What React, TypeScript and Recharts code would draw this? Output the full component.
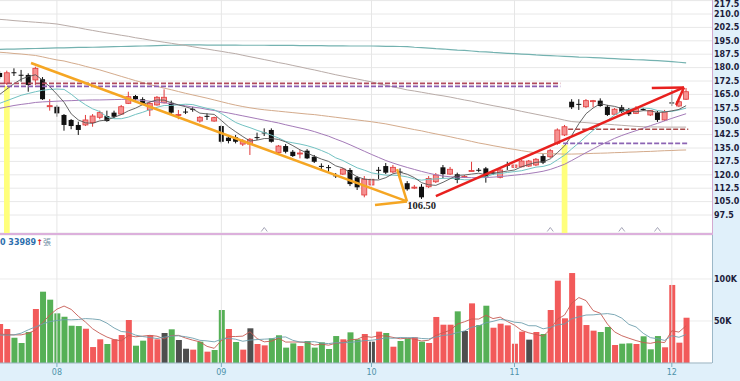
import React from 'react';
import {
  ComposedChart, Bar, Line, XAxis, YAxis, CartesianGrid,
  ReferenceLine, ReferenceArea, ReferenceDot, Cell,
} from 'recharts';

// ---------- data ----------
const opens = [177.0,171.2,177.4,176.0,175.9,173.1,173.5,158.3,158.1,153.5,150.7,147.9,147.9,149.2,152.2,152.9,154.8,154.0,160.0,164.1,162.3,156.3,159.1,160.3,160.3,153.3,155.4,156.9,150.1,153.0,150.1,147.3,140.8,141.0,137.2,137.2,141.1,143.7,145.1,132.4,136.1,132.9,131.8,133.5,130.1,125.0,124.3,119.7,120.4,122.7,118.6,108.7,114.3,122.8,124.9,121.6,121.8,115.3,112.9,113.3,113.3,116.1,124.2,120.4,120.3,118.7,122.1,122.8,123.6,121.3,118.6,125.6,124.2,124.5,124.9,125.5,130.5,130.1,137.6,142.3,160.9,159.7,158.1,161.3,161.5,158.1,153.9,157.8,156.7,154.4,156.8,153.5,154.8,150.7,160.5,158.5,162.3];
const highs = [178.1,178.3,179.6,178.7,176.8,180.5,174.7,162.3,159.1,154.0,151.2,149.7,153.5,154.0,155.9,155.9,155.9,159.1,166.5,164.7,163.4,160.9,164.1,167.8,161.5,156.3,157.2,158.1,152.9,154.4,152.5,147.9,141.3,142.3,140.0,140.6,143.6,146.0,146.0,136.7,137.2,133.9,133.9,134.4,131.1,126.4,125.5,121.0,123.8,123.8,119.3,119.3,118.2,124.4,126.6,125.5,123.6,116.5,114.3,114.8,119.3,121.0,125.5,124.4,121.2,119.9,127.3,123.8,124.4,122.7,123.2,127.3,126.0,128.3,128.3,129.4,131.6,134.4,146.0,147.9,162.3,162.3,162.4,161.9,162.8,159.1,157.4,159.1,157.4,158.5,157.4,156.3,155.7,156.3,167.5,161.9,168.6];
const lows = [173.6,170.3,175.3,172.1,166.5,170.3,161.9,155.9,152.5,144.7,145.5,142.3,147.3,146.9,151.1,149.7,151.6,153.5,159.6,161.5,159.1,152.9,158.7,160.0,154.0,151.1,154.0,155.3,149.2,150.7,149.7,137.6,137.6,137.6,136.1,131.1,139.5,141.7,138.0,132.0,132.0,130.0,129.2,128.8,126.6,122.3,121.7,118.2,119.9,113.7,111.5,107.4,113.7,117.6,120.4,121.0,118.9,111.1,112.0,106.5,112.6,115.4,118.0,119.9,115.3,118.2,121.8,121.6,115.6,119.9,118.0,122.7,123.6,124.2,124.4,124.9,126.0,129.4,136.7,141.7,156.8,156.3,157.4,157.8,158.1,152.9,153.5,154.6,152.9,154.0,155.9,152.9,149.6,150.1,158.5,157.9,161.9];
const closes = [174.7,177.1,177.2,175.8,170.3,179.6,162.3,158.7,154.4,147.9,147.3,145.1,150.7,152.9,154.8,150.1,152.5,158.1,163.7,162.3,160.0,160.0,163.4,163.4,154.8,153.7,155.2,156.7,152.2,152.8,152.0,138.5,138.9,138.5,138.9,139.9,140.9,143.5,138.5,136.1,132.9,130.5,132.2,129.2,127.3,124.8,124.1,119.5,123.2,114.8,113.0,117.5,117.5,122.6,121.2,124.2,121.6,111.9,113.1,107.4,118.0,119.9,120.4,123.1,117.1,119.1,122.4,122.6,118.9,121.1,122.7,125.4,125.5,127.7,127.7,128.7,126.8,133.5,145.1,146.9,157.8,159.5,161.5,161.5,158.5,153.5,156.7,155.3,153.9,157.2,156.6,155.9,150.7,155.3,160.3,160.9,166.5];

const ma5 = [165.0,168.0,171.0,173.5,175.0,176.0,173.0,169.3,165.1,160.6,154.1,150.7,149.1,148.8,150.2,150.7,152.2,153.7,155.8,157.3,159.3,160.8,161.9,161.8,160.3,159.1,158.1,156.8,154.5,154.1,153.8,150.4,146.9,144.1,141.4,138.9,139.4,140.3,140.3,139.8,138.4,136.3,134.0,132.2,130.4,128.8,127.5,125.0,123.8,121.3,118.9,117.6,117.2,117.1,118.4,120.6,121.4,120.3,118.4,115.6,114.4,114.1,115.8,117.8,119.7,119.9,120.4,120.9,120.0,120.8,121.5,122.1,122.7,124.5,125.8,127.0,127.3,128.9,132.4,136.2,142.0,148.6,154.2,157.4,159.8,158.9,158.3,157.1,155.6,155.3,155.9,155.8,154.9,155.1,155.8,156.6,158.7];
const ma10 = [160.0,161.5,163.0,164.5,165.5,166.5,167.3,167.8,168.0,167.8,165.1,161.9,159.2,156.9,155.4,152.4,151.4,151.4,152.3,153.8,155.0,156.5,157.8,158.8,158.8,159.2,159.5,159.3,158.2,157.2,156.4,154.3,151.8,149.3,147.7,146.4,144.9,143.6,142.2,140.6,138.7,137.9,137.2,136.3,135.1,133.6,131.9,129.5,128.0,125.9,123.9,122.6,121.1,120.4,119.8,119.8,119.5,118.8,117.7,117.0,117.5,117.7,118.0,118.1,117.7,117.2,117.2,118.3,118.9,120.3,120.7,121.3,121.8,122.3,123.3,124.3,124.7,125.8,128.4,131.0,134.5,137.9,141.5,144.9,148.0,150.5,153.5,155.6,156.5,157.5,157.4,157.1,156.0,155.4,155.5,156.3,157.3];
const ma20 = [157.2,158.0,158.8,159.4,159.9,160.5,160.8,161.0,161.2,161.4,161.5,161.7,161.8,161.9,161.9,162.0,162.1,162.2,162.3,162.0,161.6,161.2,160.8,160.3,159.8,159.2,158.6,157.9,157.4,156.6,156.0,155.3,154.6,153.8,153.0,152.2,151.4,150.6,149.8,149.0,148.0,147.1,146.2,145.3,144.2,142.9,141.6,140.0,138.5,136.8,135.0,133.2,131.4,129.7,128.0,126.6,125.3,124.1,123.0,121.9,120.9,120.0,119.3,118.9,118.7,118.5,118.4,118.4,118.5,118.7,119.0,119.4,119.8,120.2,120.7,121.3,122.0,123.0,124.4,125.9,128.0,130.2,132.4,134.5,136.6,138.5,140.4,142.0,143.4,144.7,146.1,147.5,148.8,150.2,151.6,152.9,154.2];
const ma60 = [188.6,188.3,187.9,187.6,187.2,186.8,186.0,185.1,184.3,183.7,182.7,181.8,180.7,179.7,178.7,177.5,176.3,175.1,173.9,172.7,171.6,170.5,169.5,168.5,167.6,166.6,165.6,164.7,163.8,162.9,161.9,160.9,159.9,159.0,158.2,157.5,156.9,156.4,156.0,155.6,155.2,154.8,154.4,154.0,153.7,153.2,152.7,152.2,151.7,151.2,150.7,150.2,149.7,149.1,148.5,147.7,146.9,146.1,145.3,144.6,143.7,142.9,142.1,141.3,140.4,139.6,138.7,137.8,137.1,136.3,135.6,134.8,134.2,133.5,132.9,132.3,131.9,131.8,131.7,131.6,131.6,131.7,131.8,132.0,132.1,132.2,132.4,132.5,132.7,132.8,133.0,133.1,133.3,133.5,133.6,133.8,133.9];
const ma120 = [207.0,206.7,206.3,206.0,205.7,205.4,205.1,204.8,204.4,203.7,203.0,202.3,201.5,200.8,200.1,199.4,198.8,198.1,197.5,196.7,196.1,195.4,194.8,194.2,193.6,193.0,192.4,191.7,191.0,190.4,189.7,189.1,188.4,187.8,186.9,186.1,185.3,184.5,183.7,182.8,182.1,181.2,180.4,179.5,178.7,177.8,176.9,176.0,175.2,174.4,173.6,172.8,172.0,171.0,170.1,169.2,168.4,167.5,166.9,166.2,165.5,164.8,164.2,163.5,162.7,161.9,161.2,160.3,159.5,158.7,158.0,157.2,156.4,155.5,154.7,153.9,153.1,152.3,151.5,150.6,149.8,149.5,149.2,148.9,148.6,148.3,148.0,147.7,147.4,147.1,146.9,146.8,146.8,146.7,146.7,146.7,146.7];
const ma240 = [190.2,190.3,190.4,190.5,190.6,190.7,190.8,190.9,191.0,191.1,191.2,191.3,191.3,191.4,191.5,191.6,191.7,191.8,191.9,192.0,192.1,192.2,192.3,192.4,192.5,192.6,192.7,192.7,192.7,192.6,192.6,192.6,192.6,192.6,192.5,192.5,192.5,192.5,192.4,192.4,192.4,192.4,192.3,192.3,192.3,192.3,192.2,192.2,192.2,192.1,192.1,192.1,192.1,192.0,191.9,191.9,191.8,191.7,191.4,191.2,190.9,190.6,190.4,190.1,189.8,189.6,189.3,189.0,188.8,188.5,188.3,188.0,187.8,187.6,187.4,187.1,186.9,186.7,186.5,186.3,186.1,185.9,185.8,185.6,185.4,185.2,185.0,184.8,184.6,184.4,184.3,184.1,183.9,183.6,183.3,183.0,182.7];

// volume in thousand shares (張, K)
const volumes = [46.4,40.5,30.0,23.8,36.9,64.3,84.9,75.4,59.1,55.1,44.4,44.0,40.8,19.0,28.2,22.6,28.2,33.3,51.2,20.6,26.6,33.0,28.2,35.7,40.1,27.4,17.0,15.9,25.4,13.5,15.5,63.1,40.5,25.0,15.9,41.3,22.6,21.0,29.4,33.0,18.3,23.4,20.2,26.2,18.3,24.6,16.7,32.1,28.2,36.5,28.2,34.5,25.4,37.3,35.7,19.4,26.2,29.4,30.6,25.4,23.8,54.8,45.6,45.6,61.5,38.1,71.0,45.2,68.2,42.0,46.8,44.8,23.0,37.3,27.8,36.9,34.5,63.1,98.0,53.2,107.1,68.2,45.2,38.5,36.9,42.9,21.4,23.0,23.4,22.6,31.8,16.3,32.1,18.7,92.9,24.2,53.9];
const volDir = 'rrgggrggggggrrrgrrrggrrkgkkrgrggrgrkrrggggrgggggrggrkrgrggrgrrrrgkrggrrrrrkrgrrrrrrrggrggrgggrrrr';
const volMa5 = [34.5,33.8,33.5,33.5,35.5,39.1,48.0,57.1,64.1,67.8,63.8,55.6,48.7,40.7,35.3,30.9,27.8,26.3,32.7,31.2,32.0,32.9,31.9,28.8,32.7,32.9,29.7,27.2,25.2,19.8,17.5,26.7,31.6,31.5,32.0,37.2,29.1,25.2,26.0,29.5,24.9,25.0,24.9,24.2,21.3,22.5,21.2,23.6,24.0,27.6,28.3,31.9,30.6,32.4,32.2,30.5,28.8,29.6,28.3,26.2,27.1,32.8,36.0,39.0,46.3,49.1,52.4,52.3,56.8,52.9,54.6,49.4,45.0,38.8,35.9,34.0,31.9,39.9,52.1,57.1,71.2,77.9,74.3,62.4,59.2,46.3,37.0,32.5,29.5,26.7,24.4,23.4,25.2,24.3,38.4,36.8,44.4];
const volMa10 = [33.3,33.2,33.5,35.5,39.5,43.0,46.5,49.2,50.6,51.6,51.4,51.8,52.9,52.4,51.5,47.4,41.7,37.5,36.7,33.2,31.5,30.4,29.1,30.8,32.0,32.4,31.3,29.6,27.0,26.3,25.2,28.2,29.4,28.3,25.9,27.3,27.9,28.4,28.8,30.7,31.0,27.0,25.0,25.1,25.4,23.7,23.1,24.2,24.1,24.5,25.4,26.6,27.1,28.2,29.9,29.4,30.4,30.1,30.3,29.2,28.8,30.8,32.8,33.7,36.2,38.1,42.6,44.2,47.9,49.6,51.9,50.9,48.6,47.8,44.4,44.3,40.7,42.4,45.4,46.5,52.6,54.9,57.1,57.3,58.2,58.8,57.5,53.4,46.0,42.9,35.4,30.2,28.9,26.9,32.5,30.6,33.9];

const priceTicks = [97.5,105,112.5,120,127.5,135,142.5,150,157.5,165,172.5,180,187.5,195,202.5,210,217.5];
const volTicks = [50, 100];
const monthTicks = [8, 31, 52, 72, 94];
const monthLabels = ['08', '09', '10', '11', '12'];
const highlightDays = [1, 79];
const eventDays = [37, 77, 87, 92];
const lowestDay = 59;

// ---------- build rows ----------
const data = opens.map((o, i) => ({
  i,
  open: o, high: highs[i], low: lows[i], close: closes[i],
  ma5: ma5[i], ma10: ma10[i], ma20: ma20[i], ma60: ma60[i], ma120: ma120[i], ma240: ma240[i],
  vol: volumes[i], vma5: volMa5[i], vma10: volMa10[i], dir: volDir[i],
}));

const X_DOMAIN: [number, number] = [0.04, 99.62];
const P_DOMAIN: [number, number] = [87.43, 217.84];
const V_DOMAIN: [number, number] = [0, 152.38];

const volColor = (d: string) => (d === 'r' ? '#f25a5a' : d === 'g' ? '#56b056' : '#4e4e4e');

const CandleShape = (props: any) => {
  const { x, y, width, height, payload } = props;
  if (!payload || x == null || y == null) return null;
  const { open, close, high, low } = payload;
  const top = Math.min(y, y + height);
  const h = Math.abs(height);
  const ppu = high > low ? h / (high - low) : 0;
  const cx = x + width / 2;
  const yo = top + (high - open) * ppu;
  const yc = top + (high - close) * ppu;
  const up = close > open;
  const line = up ? '#e03a3a' : '#111111';
  const fill = up ? '#f59090' : '#111111';
  const bt = Math.min(yo, yc);
  const bh = Math.max(Math.abs(yo - yc), 1);
  return (
    <g>
      <line x1={cx} x2={cx} y1={top} y2={top + h} stroke={line} strokeWidth={1} />
      <rect x={cx - 2.5} y={bt} width={5} height={bh} fill={fill}
        stroke={up ? line : 'none'} strokeWidth={up ? 0.8 : 0} />
    </g>
  );
};

const axisTick = { fontSize: 8, fontWeight: 700, fill: '#1c1c3a', fontFamily: 'DejaVu Sans' };

// right-axis price tick; the topmost label is nudged down so it stays inside the picture
const PriceTick = (props: any) => {
  const { x, y, payload } = props;
  const v = payload.value as number;
  const yy = y < 4 ? 4 : y;
  return (
    <text x={x} y={yy} dy="0.355em" textAnchor="start" {...axisTick}>{v.toFixed(1)}</text>
  );
};

export default function App() {
  return (
    <div style={{ position: 'absolute', left: 0, top: 0, width: 740, height: 381, background: '#e0f0fa', overflow: 'hidden' }}>
      {/* price panel */}
      <div style={{ position: 'absolute', left: 0, top: 0 }}>
        <ComposedChart width={740} height={233} data={data} margin={{ top: 0, right: 0, bottom: 0, left: 0 }}>
          <CartesianGrid vertical={false} stroke="#e8e8e8" fill="#ffffff" />
          <XAxis dataKey="i" type="number" domain={X_DOMAIN} allowDataOverflow hide />
          <YAxis orientation="right" width={28} domain={P_DOMAIN} allowDataOverflow ticks={priceTicks}
            interval={0} axisLine={false} tickLine={false}
            tickSize={0} tickMargin={2} tick={<PriceTick />} />
          {monthTicks.map((m) => (
            <ReferenceLine key={'vg' + m} x={m} stroke="#e6e6e6" />
          ))}
          {highlightDays.map((d) => (
            <ReferenceArea key={'hl' + d} x1={d - 0.4} x2={d + 0.4} y1={P_DOMAIN[0]}
              y2={d === 1 ? 169.7 : 136.7} fill="#ffff7c" fillOpacity={1} stroke="none" zIndex={-50} />
          ))}
          <Line dataKey="ma240" type="linear" stroke="#74b2b0" strokeWidth={1.2} dot={false} isAnimationActive={false} />
          <Line dataKey="ma120" type="linear" stroke="#b9aca8" strokeWidth={1} dot={false} isAnimationActive={false} />
          <Line dataKey="ma60" type="linear" stroke="#d4ab8c" strokeWidth={1} dot={false} isAnimationActive={false} />
          <Line dataKey="ma20" type="linear" stroke="#a47ab8" strokeWidth={1} dot={false} isAnimationActive={false} />
          <Line dataKey="ma10" type="linear" stroke="#72c2c2" strokeWidth={1} dot={false} isAnimationActive={false} />
          <Line dataKey="ma5" type="linear" stroke="#555555" strokeWidth={0.9} dot={false} isAnimationActive={false} />
          {/* support / resistance dashed segments */}
          <ReferenceLine segment={[{ x: 0.04, y: 171.2 }, { x: 78.4, y: 171.2 }]} stroke="#b04a5c" strokeWidth={1.6} strokeDasharray="5 2" />
          <ReferenceLine segment={[{ x: 0.04, y: 169.5 }, { x: 78.4, y: 169.5 }]} stroke="#8a5db0" strokeWidth={1.6} strokeDasharray="5 2" />
          <ReferenceLine segment={[{ x: 79.5, y: 145.5 }, { x: 96.3, y: 145.5 }]} stroke="#a84848" strokeWidth={1.6} strokeDasharray="5 2" />
          <ReferenceLine segment={[{ x: 78.8, y: 137.6 }, { x: 96.3, y: 137.6 }]} stroke="#8c64b4" strokeWidth={1.6} strokeDasharray="5 2" />
          <Bar dataKey={(d: any) => [d.low, d.high]} barSize={5} isAnimationActive={false}
            shape={(p: any) => <CandleShape {...p} />} />
          {/* down-trend arrow */}
          <ReferenceLine segment={[{ x: 4.38, y: 182.6 }, { x: 56.96, y: 105.1 }]} stroke="#f5a623" strokeWidth={2.5} />
          <ReferenceLine segment={[{ x: 52.49, y: 103.1 }, { x: 56.96, y: 105.1 }]} stroke="#f5a623" strokeWidth={2.5} />
          <ReferenceLine segment={[{ x: 55.57, y: 123.2 }, { x: 56.96, y: 105.1 }]} stroke="#f5a623" strokeWidth={2.5} />
          {/* up-trend arrow */}
          <ReferenceLine segment={[{ x: 61.0, y: 108.1 }, { x: 95.7, y: 168.9 }]} stroke="#e8201e" strokeWidth={2.5} />
          <ReferenceLine segment={[{ x: 91.2, y: 168.6 }, { x: 95.7, y: 168.9 }]} stroke="#e8201e" strokeWidth={2.5} />
          <ReferenceLine segment={[{ x: 94.6, y: 159.1 }, { x: 95.7, y: 168.9 }]} stroke="#e8201e" strokeWidth={2.5} />
          <ReferenceDot x={lowestDay} y={lows[lowestDay]} r={0}
            shape={(p: any) => (
              <text x={p.cx} y={p.cy + 10} textAnchor="middle" fontSize={10.5} fontWeight={700}
                fontFamily="Liberation Serif" fill="#222222">{lows[lowestDay].toFixed(2)}</text>
            )} />
          {eventDays.map((d) => (
            <ReferenceDot key={'ev' + d} x={d} y={89.4} r={0}
              shape={(p: any) => (
                <path d={`M${p.cx - 3},${p.cy + 2} L${p.cx},${p.cy - 2} L${p.cx + 3},${p.cy + 2}`}
                  fill="none" stroke="#a6a6b8" strokeWidth={1} />
              )} />
          ))}
        </ComposedChart>
      </div>
      <div style={{ position: 'absolute', left: 712, top: 0, width: 1, height: 235, background: '#d3a9d0' }} />
      <div style={{ position: 'absolute', left: 0, top: 233, width: 713, height: 2, background: '#dcb0dc' }} />

      {/* volume panel */}
      <div style={{ position: 'absolute', left: 0, top: 235 }}>
        <ComposedChart width={740} height={146} data={data} margin={{ top: 0, right: 0, bottom: 0, left: 0 }}>
          <CartesianGrid vertical={false} stroke="#ececec" fill="#ffffff" />
          <XAxis dataKey="i" type="number" domain={X_DOMAIN} allowDataOverflow ticks={monthTicks} interval={0}
            tickFormatter={(v: number) => monthLabels[monthTicks.indexOf(v)] ?? ''}
            height={18} tickSize={4} tickMargin={2}
            tick={{ fontSize: 8, fill: '#4e93ab', fontFamily: 'DejaVu Sans' }}
            tickLine={{ stroke: '#7ab0c2' }} axisLine={{ stroke: '#9cb8c8' }} />
          <YAxis orientation="right" width={28} domain={V_DOMAIN} allowDataOverflow ticks={volTicks} interval={0}
            tickFormatter={(v: number) => `${v}K`} axisLine={false} tickLine={false}
            tickSize={0} tickMargin={2} tick={axisTick} />
          {monthTicks.map((m) => (
            <ReferenceLine key={'vv' + m} x={m} stroke="#e6e6e6" />
          ))}
          <Bar dataKey="vol" barSize={6} isAnimationActive={false}>
            {data.map((d) => (
              <Cell key={'c' + d.i} fill={volColor(d.dir)} />
            ))}
          </Bar>
          <Line dataKey="vma5" type="linear" stroke="#c65a52" strokeWidth={0.9} dot={false} isAnimationActive={false} />
          <Line dataKey="vma10" type="linear" stroke="#6e9fae" strokeWidth={0.9} dot={false} isAnimationActive={false} />
        </ComposedChart>
      </div>
      <div style={{ position: 'absolute', left: 712, top: 235, width: 1, height: 128, background: '#9cb8c8' }} />
      <div style={{ position: 'absolute', left: 0, top: 237, fontFamily: 'DejaVu Sans', fontSize: 8, lineHeight: '10px', whiteSpace: 'nowrap' }}>
        <span style={{ color: '#2e6fae', fontWeight: 700 }}>0 33989</span>
        <span style={{ color: '#d42020', fontWeight: 700 }}>↑</span>
        <span style={{ color: '#6a8ca2', fontFamily: 'Noto Sans CJK TC' }}>張</span>
      </div>
    </div>
  );
}
